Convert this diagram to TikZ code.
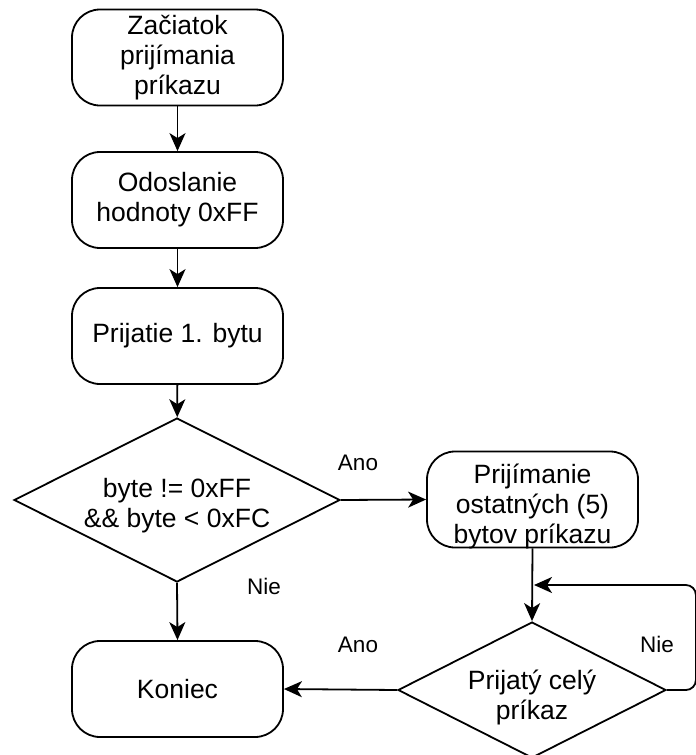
\documentclass[tikz,border=0pt]{standalone}
\usepackage{fontspec}
\setmainfont{Liberation Sans}
\usetikzlibrary{shapes.geometric,arrows.meta}
\begin{document}
\begin{tikzpicture}[x=1pt,y=-1pt,
  every node/.style={font=\fontsize{26.5}{30}\selectfont},
  proc/.style={draw,line width=1.8pt,rounded corners=28pt,minimum width=211pt,minimum height=96pt,inner sep=0pt,align=center},
  cond/.style={draw,line width=1.8pt,diamond,aspect=2,inner sep=0pt},
  txt/.style={align=center,inner sep=0pt},
  lbl/.style={font=\fontsize{22.5}{26}\selectfont,inner sep=0pt},
  arr/.style={line width=1.8pt,-{Stealth[length=18pt,width=16pt,inset=5pt]}}]
\useasboundingbox (0,0) rectangle (696,755);

% left column
\node[proc] (start) at (177.5,57.5) {Začiatok\\prijímania\\príkazu};
\node[proc] (send) at (177.5,200) {Odoslanie\\hodnoty 0xFF};
\node[proc] (first) at (177.5,336) {Prijatie 1. bytu};
\node[cond,minimum width=326pt,minimum height=164pt] (check) at (177,500) {};
\node[txt] (checkt) at (177,506) {byte != 0xFF\\\&\& byte < 0xFC};
\node[proc] (end) at (177.5,689) {Koniec};

% right column
\node[proc] (rest) at (532.5,499.5) {};
\node[txt] (restt) at (532.5,506) {Prijímanie\\ostatných (5)\\bytov príkazu};
\node[cond,minimum width=268pt,minimum height=136pt] (done) at (532,690) {};
\node[txt] (donet) at (532,697) {Prijatý celý\\príkaz};
\coordinate (loopin) at (534,585);

% connectors
\draw[arr] (start) -- (send);
\draw[arr] (send) -- (first);
\draw[arr] (first) -- (check);
\draw[arr] (check.east) -- (rest.west);
\draw[arr] (check.south) -- (end.north);
\draw[arr] (rest.south) -- (done.north);
\draw[arr] (done.west) -- (end.east);
\draw[arr,rounded corners=10pt] (done.east) -- ++(29,0) |- (loopin);

% branch labels
\node[lbl] (yes1) at (358,463) {Ano};
\node[lbl] (no1) at (264,586) {Nie};
\node[lbl] (yes2) at (358,645) {Ano};
\node[lbl] (no2) at (657,644) {Nie};
\end{tikzpicture}
\end{document}
